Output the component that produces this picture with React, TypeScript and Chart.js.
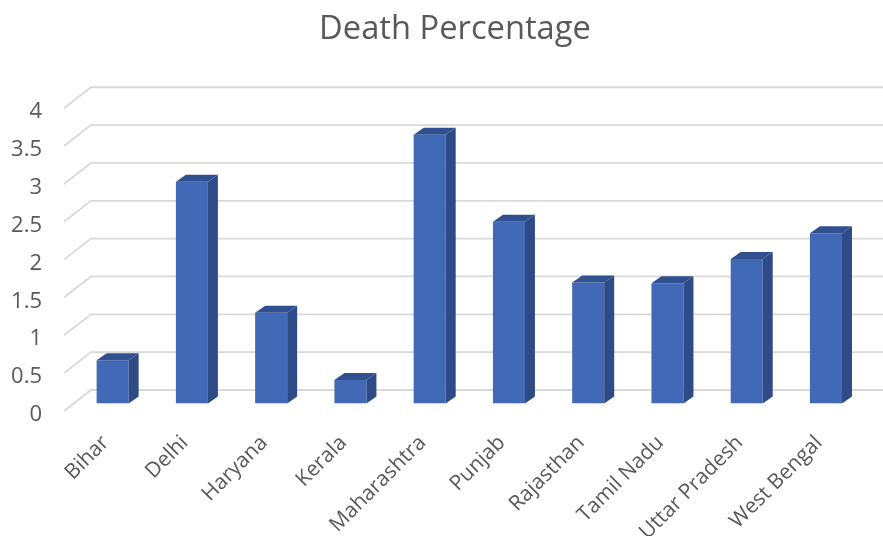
import React, { useEffect, useRef } from "react";
import { Chart, registerables } from "chart.js";

Chart.register(...registerables);

const categories = ["Bihar", "Delhi", "Haryana", "Kerala", "Maharashtra", "Punjab", "Rajasthan", "Tamil Nadu", "Uttar Pradesh", "West Bengal"];
const deathPercentage = [0.57, 2.93, 1.2, 0.31, 3.55, 2.4, 1.6, 1.59, 1.91, 2.25];
const axisTicks = [0, 0.5, 1, 1.5, 2, 2.5, 3, 3.5, 4];

const FONT = "'Open Sans', sans-serif";
const TEXT = "#595959";
const GRID = "#d9d9d9";
const FRONT = "#4269b5";
const SIDE = "#2e4b87";
const TOP = "#31508f";
const DEPTH_X = 10;
const DEPTH_Y = 7;

// Sloped floor/wall gridlines behind the columns.
const wallGrid = {
  id: "wallGrid",
  afterLayout(chart: any) {
    // Value labels sit left of the plot's reserved gutter; widen their clip area.
    chart.scales.yLabels.left = 0;
  },
  beforeDatasetsDraw(chart: any) {
    const { ctx, chartArea, scales } = chart;
    ctx.save();
    ctx.strokeStyle = GRID;
    ctx.lineWidth = 1.8;
    for (const v of axisTicks) {
      const y = scales.y.getPixelForValue(v);
      ctx.beginPath();
      ctx.moveTo(chartArea.left - 9, y + 7.5);
      ctx.lineTo(chartArea.left + 18, y - 13.5);
      ctx.lineTo(chartArea.right + 18, y - 13.5);
      ctx.stroke();
    }
    ctx.restore();
  },
};

// Side and top faces that give each column its depth.
const columnDepth = {
  id: "columnDepth",
  afterDatasetsDraw(chart: any) {
    const { ctx } = chart;
    const meta = chart.getDatasetMeta(0);
    ctx.save();
    for (const bar of meta.data) {
      const half = bar.width / 2;
      const l = bar.x - half;
      const r = bar.x + half;
      const t = bar.y;
      const b = bar.base;
      ctx.fillStyle = SIDE;
      ctx.beginPath();
      ctx.moveTo(r, t);
      ctx.lineTo(r + DEPTH_X, t - DEPTH_Y);
      ctx.lineTo(r + DEPTH_X, b - DEPTH_Y);
      ctx.lineTo(r, b);
      ctx.closePath();
      ctx.fill();
      ctx.fillStyle = TOP;
      ctx.beginPath();
      ctx.moveTo(l, t);
      ctx.lineTo(l + DEPTH_X, t - DEPTH_Y);
      ctx.lineTo(r + DEPTH_X, t - DEPTH_Y);
      ctx.lineTo(r, t);
      ctx.closePath();
      ctx.fill();
    }
    ctx.restore();
  },
};

export default function App() {
  const ref = useRef<HTMLCanvasElement>(null);

  useEffect(() => {
    const chart = new Chart(ref.current!, {
      type: "bar",
      data: {
        labels: categories,
        datasets: [
          {
            label: "Death Percentage",
            data: deathPercentage,
            backgroundColor: FRONT,
            barPercentage: 0.404,
            categoryPercentage: 1,
            yAxisID: "y",
          },
        ],
      },
      plugins: [wallGrid, columnDepth],
      options: {
        responsive: false,
        animation: false,
        layout: { padding: { left: 44.4, right: 17.4, top: 0, bottom: 0 } },
        plugins: {
          legend: { display: false },
          tooltip: { enabled: false },
          title: {
            display: true,
            text: "Death Percentage",
            color: TEXT,
            font: { family: FONT, size: 32.7, weight: "normal", lineHeight: 1.2 },
            padding: { top: 10, bottom: 51.5 },
          },
        },
        scales: {
          x: {
            grid: { display: false },
            border: { display: false },
            afterFit(scale: any) {
              scale.height = 132.5;
            },
            ticks: {
              color: TEXT,
              font: { family: FONT, size: 21 },
              minRotation: 45,
              maxRotation: 45,
              autoSkip: false,
              padding: 19,
              labelOffset: -7,
            },
          },
          y: {
            display: false,
            min: 0,
            max: 4,
          },
          // Carries the value labels, set slightly below the column baseline grid.
          yLabels: {
            position: "left",
            min: 0.15,
            max: 4.15,
            grid: { display: false },
            border: { display: false },
            afterBuildTicks(scale: any) {
              scale.ticks = axisTicks.map((value) => ({ value }));
            },
            afterFit(scale: any) {
              scale.width = 28.6;
            },
            ticks: {
              color: TEXT,
              font: { family: FONT, size: 22 },
              padding: 23,
              autoSkip: false,
              callback: (value: number) => String(value),
            },
          },
        },
      } as any,
    });
    return () => chart.destroy();
  }, []);

  return (
    <div style={{ position: "absolute", left: 0, top: 0, width: 883, height: 536, background: "#fff", overflow: "hidden" }}>
      <canvas ref={ref} width={883} height={536} style={{ display: "block" }} />
    </div>
  );
}
